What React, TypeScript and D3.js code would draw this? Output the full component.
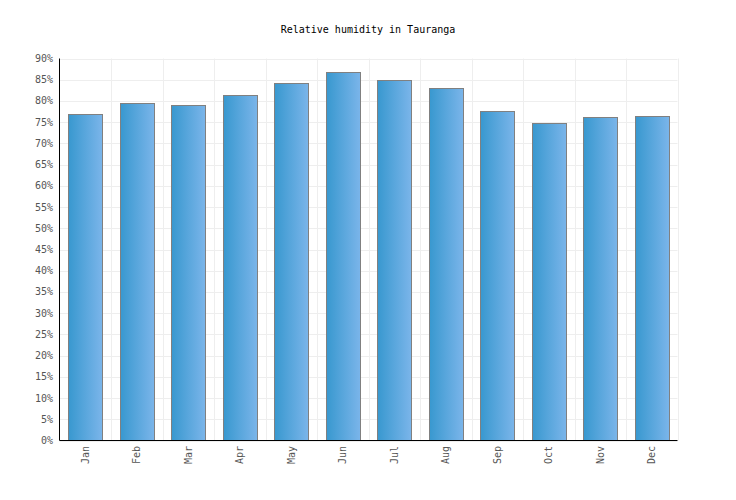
import React from "react";
import * as d3 from "d3";

const months = ["Jan", "Feb", "Mar", "Apr", "May", "Jun", "Jul", "Aug", "Sep", "Oct", "Nov", "Dec"];
const humidity = [76.9, 79.5, 79.0, 81.4, 84.2, 86.8, 84.9, 83.0, 77.6, 74.8, 76.2, 76.4];
const yTicks = [0, 5, 10, 15, 20, 25, 30, 35, 40, 45, 50, 55, 60, 65, 70, 75, 80, 85, 90];
const title = "Relative humidity in Tauranga";

const W = 736, H = 500;
const L = 59.5, R = 677.5, T = 58.5, B = 440.5;
const font = "'DejaVu Sans Mono', monospace";

export default function App() {
  const x = d3.scaleBand<string>().domain(months).range([L, R]).paddingInner(0).paddingOuter(0);
  const y = d3.scaleLinear().domain([0, 90]).range([B, T]);
  const bw = x.bandwidth() * 0.66;
  return (
    <svg width={W} height={H} style={{ position: "absolute", left: 0, top: 0 }}>
      <defs>
        <linearGradient id="barGrad" x1="0" x2="1" y1="0" y2="0">
          <stop offset="0%" stopColor="#3898cf" />
          <stop offset="100%" stopColor="#7bb5ea" />
        </linearGradient>
      </defs>
      <rect width={W} height={H} fill="#fff" />
      <text x={W / 2} y={33} textAnchor="middle" fontFamily={font} fontSize={10} fill="#000">{title}</text>
      {yTicks.map((t) => (
        <line key={"h" + t} x1={L} x2={R} y1={Math.round(y(t)) + 0.5} y2={Math.round(y(t)) + 0.5} stroke="#eeeeee" />
      ))}
      {months.map((m, i) => (
        <line key={"v" + m} x1={Math.round(x(m)! + x.bandwidth()) + 0.5} x2={Math.round(x(m)! + x.bandwidth()) + 0.5} y1={T} y2={B} stroke="#eeeeee" />
      ))}
      {months.map((m, i) => {
        const cx = x(m)! + x.bandwidth() / 2;
        const x0 = Math.round(cx - bw / 2) + 0.5;
        const yt = Math.round(y(humidity[i])) + 0.5;
        return (
          <rect key={m} x={x0} y={yt} width={Math.round(bw)} height={B - yt} fill="url(#barGrad)" stroke="#808080" strokeWidth={1} />
        );
      })}
      <line x1={L} x2={L} y1={T} y2={B} stroke="#000" />
      <line x1={L} x2={R} y1={B} y2={B} stroke="#000" />
      {yTicks.map((t) => (
        <text key={"t" + t} x={53} y={y(t) + 3.5} textAnchor="end" fontFamily={font} fontSize={10} fill="#555">{t + "%"}</text>
      ))}
      {months.map((m) => {
        const cx = x(m)! + x.bandwidth() / 2;
        return (
          <text key={"l" + m} transform={`translate(${cx + 3.5},${446}) rotate(-90)`} textAnchor="end" fontFamily={font} fontSize={10} fill="#555">{m}</text>
        );
      })}
    </svg>
  );
}
